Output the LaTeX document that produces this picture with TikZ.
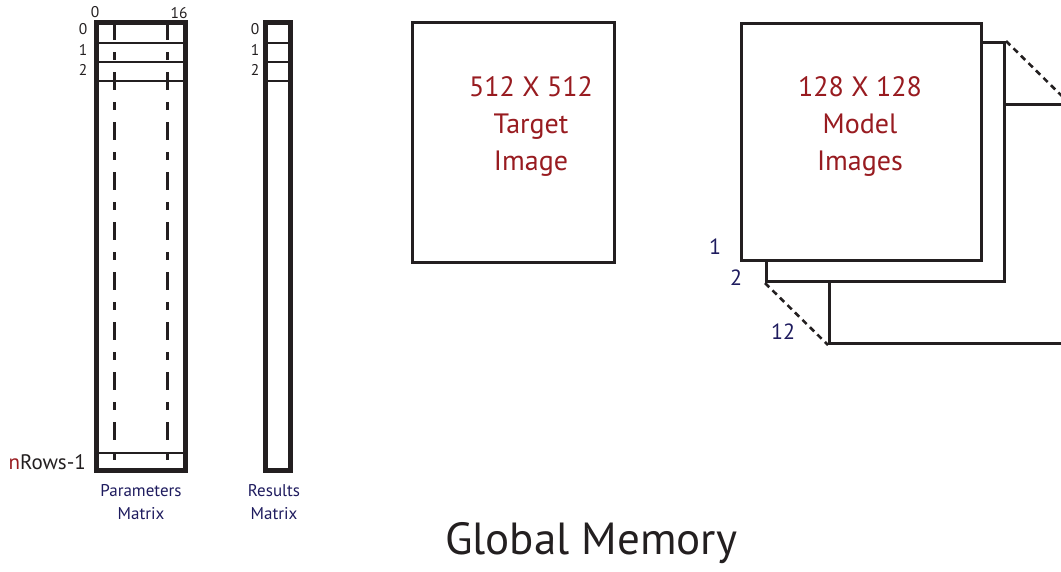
\documentclass[tikz,border=0pt]{standalone}
\usepackage{fontspec}
\setmainfont{PT Sans}
\definecolor{navy}{HTML}{1E1B5E}
\definecolor{dred}{HTML}{981B20}
\definecolor{ink}{HTML}{231F20}
\begin{document}
\begin{tikzpicture}[x=1pt,y=-1pt,
  thickbox/.style={draw=ink,line width=5pt,minimum width=#1,inner sep=0pt},
  imgbox/.style={draw=ink,line width=3pt,fill=white,inner sep=0pt,anchor=north west},
  rowline/.style={draw=ink,line width=2.5pt},
  colline/.style={draw=ink,line width=3pt,dash pattern=on 18pt off 12pt on 8pt off 12pt},
  stackdash/.style={draw=ink,line width=2.6pt,dash pattern=on 6pt off 4.5pt},
  idx/.style={text=ink,font=\fontsize{15.5}{15.5}\selectfont,inner sep=0pt},
  captxt/.style={text=navy,font=\fontsize{17}{23}\selectfont,align=center,inner sep=0pt},
  imgtxt/.style={text=dred,font=\fontsize{28}{37}\selectfont,align=center,inner sep=0pt},
  stk/.style={text=navy,font=\fontsize{22}{22}\selectfont,inner sep=0pt}]
\useasboundingbox (0,0) rectangle (1061,571);
\clip (0,0) rectangle (1061,571);
% Parameters matrix
\node[thickbox=89pt,minimum height=448pt] (pm) at (140.5,246) {};
\foreach \y in {43,62,81,453}{\draw[rowline] (96,\y) -- (185,\y);}
\coordinate (c1t) at (114,22); \coordinate (c1b) at (114,470);
\coordinate (c2t) at (167,22); \coordinate (c2b) at (167,470);
\draw[colline] (c1t) -- (c1b);
\draw[colline] (c2t) -- (c2b);
\node[idx] (p0) at (95,12) {0};
\node[idx] (p16) at (179,13) {16};
\node[idx] (pr0) at (83,29) {0};
\node[idx] (pr1) at (83,50) {1};
\node[idx] (pr2) at (83,70) {2};
\node[font=\fontsize{21}{21}\selectfont,inner sep=0pt,anchor=east,text=ink] (pn) at (86,462) {\textcolor{dred}{n}Rows-1};
\node[captxt] (pcap) at (141,502) {Parameters\\Matrix};
% Results matrix
\node[thickbox=25pt,minimum height=448pt] (rm) at (277.5,246) {};
\foreach \y in {43,62,81}{\draw[rowline] (265,\y) -- (290,\y);}
\node[idx] (rr0) at (255,29) {0};
\node[idx] (rr1) at (255,50) {1};
\node[idx] (rr2) at (255,70) {2};
\node[captxt] (rcap) at (274,502) {Results\\Matrix};
% Target image
\node[imgbox,minimum width=202pt,minimum height=240pt] (tgt) at (411,21) {};
\node[imgtxt] (tgttxt) at (531,126) {512 X 512\\Target\\Image};
% Model image stack
\node[imgbox,minimum width=238pt,minimum height=239pt] (m12) at (828,103) {};
\node[imgbox,minimum width=238pt,minimum height=239pt] (m2) at (765,41) {};
\node[imgbox,minimum width=240pt,minimum height=237pt] (m1) at (740,22) {};
\draw[stackdash] (m2.north east) -- (m12.north east);
\draw[stackdash] (m2.south west) -- (m12.south west);
\node[imgtxt] (mtxt) at (860,126) {128 X 128\\Model\\Images};
\node[stk] (l1) at (715,247) {1};
\node[stk] (l2) at (736,278) {2};
\node[stk] (l12) at (783,332) {12};
% Title
\node[font=\fontsize{45}{45}\selectfont,text=ink,inner sep=0pt] (title) at (591,543) {Global Memory};
\end{tikzpicture}
\end{document}
